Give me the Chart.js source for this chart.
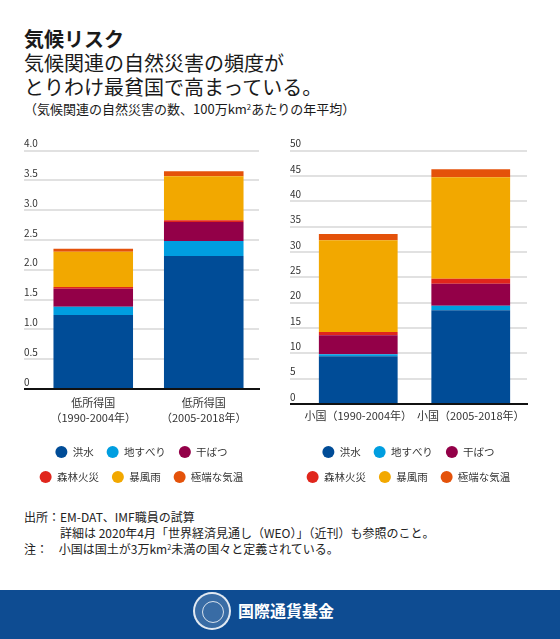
<!DOCTYPE html>
<html>
<head>
<meta charset="utf-8">
<script src="https://cdn.jsdelivr.net/npm/chart.js@4.4.1/dist/chart.umd.min.js"></script>
<style>
  body { margin: 0; background: #fff; font-family: "Noto Sans CJK JP", sans-serif; color: #1a1a1a; }
  #page { position: relative; width: 560px; height: 639px; overflow: hidden; background: #fff; }
  .t { position: absolute; left: 24px; white-space: nowrap; }
  #h1 { top: 27px; font-size: 20px; line-height: 24px; font-weight: bold; }
  #h2 { top: 51px; font-size: 20px; line-height: 23.5px; }
  #h3 { top: 101px; font-size: 13px; line-height: 16px; }
  sup { font-size: 0.6em; vertical-align: 0; position: relative; top: -0.55em; }
  .box { position: absolute; top: 130px; width: 280px; height: 364px; }
  #foot { top: 509px; font-size: 12px; line-height: 16px; color: #222; }
  #foot .ind { padding-left: 36px; }
  #band { position: absolute; left: 0; top: 590px; width: 560px; height: 49px; background: #0e4c92; }
  #seal { position: absolute; left: 193px; top: 2px; width: 34px; height: 34px; border-radius: 50%;
          border: 2px solid rgba(255,255,255,0.85); background: rgba(255,255,255,0.18); }
  #seal div { position: absolute; left: 7px; top: 7px; width: 20px; height: 20px; border-radius: 50%;
          border: 1.5px solid rgba(255,255,255,0.8); }
  #org { position: absolute; left: 238px; top: 8px; font-size: 16px; line-height: 24px; font-weight: bold; color: #fff; }
</style>
</head>
<body>
<div id="page">
  <div class="t" id="h1">気候リスク</div>
  <div class="t" id="h2">気候関連の自然災害の頻度が<br>とりわけ最貧国で高まっている。</div>
  <div class="t" id="h3">（気候関連の自然災害の数、100万km<sup>2</sup>あたりの年平均）</div>

  <div class="box" style="left:0px"><canvas id="lowChart"></canvas></div>
  <div class="box" style="left:280px"><canvas id="smallChart"></canvas></div>

  <div class="t" id="foot">
    出所：EM-DAT、IMF職員の試算<br>
    <span class="ind">詳細は 2020年4月「世界経済見通し（WEO）」（近刊）も参照のこと。</span><br>
    注：&nbsp;&nbsp;&nbsp;&nbsp;小国は国土が3万km<sup>2</sup>未満の国々と定義されている。
  </div>

  <div id="band">
    <div id="seal"><div></div></div>
    <div id="org">国際通貨基金</div>
  </div>
</div>

<script>
// categories
var lowIncomeLabels = [['低所得国', '（1990-2004年）'], ['低所得国', '（2005-2018年）']];
var smallStateLabels = ['小国（1990-2004年）', '小国（2005-2018年）'];

var seriesNames = ['洪水', '地すべり', '干ばつ', '森林火災', '暴風雨', '極端な気温'];
var seriesColors = ['#004c97', '#009ee0', '#930048', '#e0261c', '#f2a800', '#e4520a'];

// low income countries, disasters per 1m km2 per year
var lowFlood     = [1.24, 2.23];
var lowLandslide = [0.14, 0.25];
var lowDrought   = [0.30, 0.32];
var lowWildfire  = [0.03, 0.03];
var lowStorm     = [0.59, 0.74];
var lowTemp      = [0.05, 0.08];

// small states
var smallFlood     = [9.4, 18.5];
var smallLandslide = [0.4, 0.9];
var smallDrought   = [3.75, 4.3];
var smallWildfire  = [0.65, 1.0];
var smallStorm     = [18.1, 20.0];
var smallTemp      = [1.25, 1.6];

function makeChart(id, labels, series, yMax, yStep, fmt, pad, tickLen, barPct, xPad, extraX) {
    var ctx = document.getElementById(id).getContext('2d');
    var datasets = series.map(function (s, i) {
        return {
            label: seriesNames[i],
            data: s,
            backgroundColor: seriesColors[i],
            borderWidth: 0,
            barPercentage: barPct,
            categoryPercentage: 1
        };
    });

    return new Chart(ctx, {
        type: 'bar',
        data: { labels: labels, datasets: datasets },
        options: {
            responsive: true,
            maintainAspectRatio: false,
            animation: false,
            layout: { padding: { left: pad.left, right: pad.right, top: 20.5, bottom: 1 } },
            plugins: {
                tooltip: { enabled: false },
                legend: {
                    position: 'bottom',
                    labels: {
                        boxWidth: 12,
                        boxHeight: 12,
                        useBorderRadius: true,
                        borderRadius: 6,
                        padding: 13,
                        color: '#333',
                        font: { family: '"Noto Sans CJK JP", sans-serif', size: 10.5 }
                    }
                }
            },
            scales: {
                x: {
                    stacked: true,
                    z: 1,
                    grid: { display: false, drawTicks: false },
                    border: { display: true, color: '#111', width: 2 },
                    ticks: {
                        padding: xPad,
                        maxRotation: 0,
                        autoSkip: false,
                        color: '#333',
                        font: { family: '"Noto Sans CJK JP", sans-serif', size: 11, lineHeight: 1.3 }
                    },
                    afterFit: function (scale) { scale.height += extraX; }
                },
                y: {
                    stacked: true,
                    min: 0,
                    max: yMax,
                    border: { display: false },
                    grid: {
                        color: function (c) { return c.tick && c.tick.value === 0 ? '#111' : '#e1e1e1'; },
                        lineWidth: 2,
                        tickLength: tickLen
                    },
                    ticks: {
                        stepSize: yStep,
                        crossAlign: 'far',
                        padding: 0,
                        labelOffset: -7,
                        color: '#333',
                        font: { family: '"Noto Sans CJK JP", sans-serif', size: 10 },
                        callback: function (v) { return v === 0 ? '0' : fmt(v); }
                    },
                    // labels sit on top of the grid lines, so the axis is only as wide as the tick marks
                    afterFit: function (scale) { scale.width = tickLen; }
                }
            }
        }
    });
}

makeChart('lowChart', lowIncomeLabels,
    [lowFlood, lowLandslide, lowDrought, lowWildfire, lowStorm, lowTemp],
    4, 0.5, function (v) { return v.toFixed(1); },
    { left: 24, right: 21 }, 14, 0.72, 7, 1.5);

makeChart('smallChart', smallStateLabels,
    [smallFlood, smallLandslide, smallDrought, smallWildfire, smallStorm, smallTemp],
    50, 5, function (v) { return String(v); },
    { left: 10, right: 33 }, 12, 0.70, 5, 4.7);
</script>
</body>
</html>
